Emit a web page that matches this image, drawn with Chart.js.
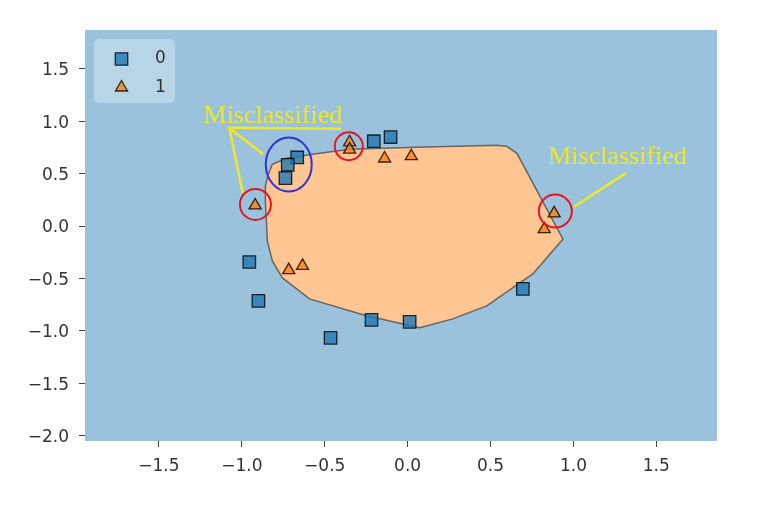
<!DOCTYPE html>
<html>
<head>
<meta charset="utf-8">
<script src="https://cdn.jsdelivr.net/npm/chart.js@4.4.0/dist/chart.umd.min.js"></script>
<style>
  html, body { margin: 0; padding: 0; background: #fff; }
  #wrap { width: 768px; height: 513px; }
</style>
</head>
<body>
<div id="wrap"><canvas id="chart" width="768" height="513"></canvas></div>
<script>
// class 0 samples (squares)
const class0X = [-0.955, -0.900, -0.465, -0.218, 0.012, 0.695, -0.666, -0.723, -0.737, -0.204, -0.103];
const class0Y = [-0.343, -0.714, -1.067, -0.895, -0.914, -0.600, 0.655, 0.585, 0.458, 0.810, 0.850];

// class 1 samples (triangles)
const class1X = [-0.920, -0.350, -0.350, -0.139, 0.022, -0.717, -0.634, 0.884, 0.824];
const class1Y = [0.197, 0.800, 0.730, 0.645, 0.667, -0.420, -0.380, 0.121, -0.030];

// decision region for class 1 (outline of the orange area)
const regionX = [-0.840, -0.816, -0.731, -0.574, -0.350, 0.054, 0.538, 0.598, 0.659, 0.937,
                 0.755, 0.477, 0.272, 0.073, -0.248, -0.592, -0.755, -0.816, -0.846, -0.858, -0.858];
const regionY = [0.495, 0.590, 0.648, 0.686, 0.733, 0.752, 0.771, 0.762, 0.695, -0.124,
                 -0.457, -0.762, -0.886, -0.971, -0.857, -0.695, -0.495, -0.333, -0.143, 0.238, 0.381];

// axis ticks
const xTicks = [-1.5, -1.0, -0.5, 0.0, 0.5, 1.0, 1.5];
const yTicks = [-2.0, -1.5, -1.0, -0.5, 0.0, 0.5, 1.0, 1.5];

// hand-drawn annotations
const labelText = 'Misclassified';
const labelX = [-0.813, 1.266];
const labelY = [0.984, 0.588];
const pointerSegments = [
  [[-0.401, 0.930], [-1.076, 0.938], [-0.995, 0.317]],
  [[-1.076, 0.938], [-0.870, 0.683]],
  [[1.317, 0.508], [1.005, 0.184]]
];
const redX = [-0.918, -0.355, 0.891];
const redY = [0.207, 0.762, 0.143];
const redRadius = [15.5, 14, 16.5];
const blueX = -0.717;
const blueY = 0.588;

const toPoints = (xs, ys) => xs.map((x, i) => ({ x, y: ys[i] }));
const fmt = v => (v < 0 ? '\u2212' : '') + Math.abs(v).toFixed(1);

const tickFont = { family: '"DejaVu Sans"', size: 17 };
const tickColor = '#333';
const yellow = 'rgb(240,231,40)';
const squareStyle = { fill: 'rgba(31,119,180,0.8)', edge: 'rgba(0,0,0,0.8)' };
const triStyle = { fill: 'rgba(255,127,14,0.8)', edge: 'rgba(0,0,0,0.8)' };

const decor = {
  id: 'decor',
  beforeDatasetsDraw(chart) {
    const { ctx, chartArea: a } = chart;
    ctx.save();
    ctx.fillStyle = 'rgb(154,194,221)';
    ctx.fillRect(a.left, a.top, a.right - a.left, a.bottom - a.top);
    ctx.restore();
  },
  afterDatasetsDraw(chart) {
    const { ctx, chartArea: a, scales: { x, y } } = chart;
    ctx.save();

    // blue ellipse round the three squares
    ctx.strokeStyle = 'rgb(50,50,212)';
    ctx.lineWidth = 2;
    ctx.beginPath();
    ctx.ellipse(x.getPixelForValue(blueX), y.getPixelForValue(blueY), 23, 27, 0, 0, Math.PI * 2);
    ctx.stroke();

    // labels
    ctx.fillStyle = yellow;
    ctx.font = '26px "Liberation Serif"';
    ctx.textAlign = 'center';
    ctx.textBaseline = 'alphabetic';
    labelX.forEach((lx, i) => {
      ctx.fillText(labelText, x.getPixelForValue(lx), y.getPixelForValue(labelY[i]));
    });

    // legend box
    const lx = a.left + 9, ly = a.top + 9;
    ctx.fillStyle = 'rgba(255,255,255,0.3)';
    ctx.beginPath();
    ctx.roundRect(lx, ly, 81, 64, 5);
    ctx.fill();

    const entries = [['0', 'rect', 8.8, squareStyle], ['1', 'triangle', 7, triStyle]];
    entries.forEach(([txt, style, r, col], i) => {
      const cy = ly + 20 + i * 28.5;
      ctx.fillStyle = col.fill;
      ctx.strokeStyle = col.edge;
      ctx.lineWidth = 1.3;
      Chart.helpers.drawPoint(ctx, { pointStyle: style, radius: r, rotation: 0, borderWidth: 1.3 }, lx + 27.5, cy);
      ctx.fillStyle = tickColor;
      ctx.font = '17px "DejaVu Sans"';
      ctx.textAlign = 'center';
      ctx.textBaseline = 'middle';
      ctx.fillText(txt, lx + 66.5, cy);
    });
    ctx.restore();
  }
};

const datasets = [];
pointerSegments.forEach(seg => {
  datasets.push({
    type: 'line',
    data: seg.map(p => ({ x: p[0], y: p[1] })),
    borderColor: yellow,
    borderWidth: 2.5,
    pointRadius: 0,
    fill: false,
    order: 0
  });
});
datasets.push({
  type: 'scatter',
  data: toPoints(redX, redY),
  pointStyle: 'circle',
  pointRadius: redRadius,
  backgroundColor: 'rgba(0,0,0,0)',
  borderColor: 'rgb(228,22,36)',
  borderWidth: 2,
  order: 0
});
datasets.push({
  label: '0',
  data: toPoints(class0X, class0Y),
  pointStyle: 'rect',
  pointRadius: 8.8,
  backgroundColor: squareStyle.fill,
  borderColor: squareStyle.edge,
  borderWidth: 1.3,
  order: 2
});
datasets.push({
  label: '1',
  data: toPoints(class1X, class1Y),
  pointStyle: 'triangle',
  pointRadius: 7,
  backgroundColor: triStyle.fill,
  borderColor: triStyle.edge,
  borderWidth: 1.3,
  order: 2
});
datasets.push({
  type: 'line',
  data: toPoints(regionX.concat(regionX[0]), regionY.concat(regionY[0])),
  fill: 'shape',
  backgroundColor: 'rgb(255,197,147)',
  borderColor: 'rgba(70,70,70,0.75)',
  borderWidth: 1.5,
  pointRadius: 0,
  tension: 0,
  order: 5
});

new Chart(document.getElementById('chart'), {
  type: 'scatter',
  data: { datasets },
  plugins: [decor],
  options: {
    responsive: false,
    animation: false,
    devicePixelRatio: 1,
    events: [],
    layout: { padding: { top: 30, right: 51, bottom: 0, left: 0 } },
    plugins: { legend: { display: false }, tooltip: { enabled: false } },
    scales: {
      x: {
        type: 'linear',
        min: -1.946,
        max: 1.866,
        afterFit: s => { s.height = 72; },
        afterBuildTicks: s => { s.ticks = xTicks.map(v => ({ value: v })); },
        ticks: { callback: fmt, font: tickFont, color: tickColor, padding: 9, maxRotation: 0, autoSkip: false },
        grid: { drawOnChartArea: false, tickLength: 6, tickColor: '#444' },
        border: { display: false }
      },
      y: {
        type: 'linear',
        min: -2.052,
        max: 1.872,
        afterFit: s => { s.width = 85; },
        afterBuildTicks: s => { s.ticks = yTicks.map(v => ({ value: v })); },
        ticks: { callback: fmt, font: tickFont, color: tickColor, padding: 10, labelOffset: 2, autoSkip: false },
        grid: { drawOnChartArea: false, tickLength: 6, tickColor: '#444' },
        border: { display: false }
      }
    }
  }
});
</script>
</body>
</html>
